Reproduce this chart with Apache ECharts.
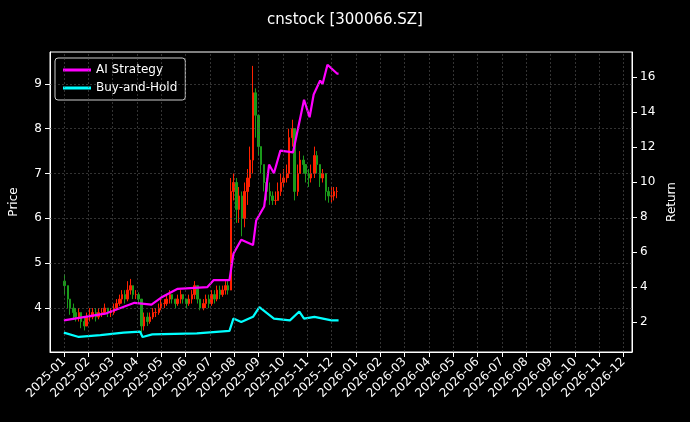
<!DOCTYPE html>
<html>
<head>
<meta charset="utf-8">
<script src="https://cdn.jsdelivr.net/npm/echarts@6/dist/echarts.min.js"></script>
<style>html,body{margin:0;background:#000}#main{width:690px;height:422px}</style>
</head>
<body>
<div id="main"></div>
<script>
// closes, highs, lows: twice a week (Mon/Thu), 2025-01-02 .. 2025-12-08
var closes = [
	4.5,4.2,4.0,3.9,3.8,3.9,3.7,3.6,3.8,
	3.8,3.9,3.8,3.9,3.9,4.0,3.9,3.9,
	4.0,4.1,4.2,4.3,4.2,4.4,4.5,4.3,4.3,
	4.2,3.6,3.8,3.7,3.8,3.9,3.9,4.0,
	4.1,4.1,4.2,4.3,4.2,4.1,4.2,4.3,4.2,
	4.1,4.2,4.3,4.5,4.2,4.0,4.1,4.2,4.1,
	4.3,4.2,4.4,4.3,4.4,4.5,4.4,6.6,6.8,
	6.2,6.5,6.0,6.6,6.9,7.3,8.8,8.3,
	7.6,7.2,6.8,6.6,6.5,6.4,6.4,6.6,6.8,
	6.9,7.0,7.8,8.0,6.6,7.0,7.3,7.2,7.0,
	6.9,7.0,7.4,7.2,6.9,7.0,6.6,6.5,
	6.5,6.6,6.6
];
var highs = [
	4.75,4.5,4.2,4.1,4.0,4.0,3.9,3.8,3.9,
	4.0,4.0,4.0,4.0,4.0,4.1,4.0,4.0,
	4.1,4.2,4.3,4.4,4.4,4.6,4.65,4.5,4.4,
	4.35,4.2,3.9,3.9,3.9,4.0,4.0,4.1,
	4.2,4.2,4.3,4.4,4.3,4.2,4.3,4.4,4.3,
	4.2,4.3,4.4,4.6,4.5,4.2,4.2,4.3,4.3,
	4.4,4.4,4.5,4.5,4.5,4.6,4.6,6.9,7.0,
	6.9,6.7,6.6,6.8,7.1,7.6,9.4,8.9,
	8.3,7.6,7.2,6.9,6.8,6.6,6.6,6.8,7.0,
	7.1,7.2,8.0,8.2,7.9,7.2,7.5,7.4,7.2,
	7.1,7.2,7.6,7.5,7.2,7.1,6.9,6.7,
	6.7,6.7,6.7
];
var lows = [
	4.3,4.0,3.85,3.75,3.7,3.7,3.55,3.5,3.6,
	3.7,3.75,3.7,3.75,3.8,3.85,3.8,3.8,
	3.85,3.95,4.05,4.1,4.1,4.15,4.3,4.2,4.2,
	4.1,3.45,3.5,3.6,3.65,3.75,3.8,3.85,
	3.95,4.0,4.05,4.1,4.1,4.0,4.05,4.1,4.1,
	4.0,4.05,4.1,4.2,4.1,3.95,3.95,4.0,4.0,
	4.05,4.1,4.15,4.2,4.25,4.3,4.3,4.4,6.4,
	5.9,5.9,5.6,5.8,6.3,6.7,7.0,7.8,
	7.4,7.0,6.6,6.4,6.3,6.3,6.3,6.4,6.5,
	6.7,6.8,6.9,7.6,6.4,6.5,7.0,7.0,6.8,
	6.7,6.8,6.9,7.0,6.7,6.8,6.4,6.35,
	6.35,6.4,6.45
];
var aiDates = ['2025-01-01','2025-02-22','2025-03-29','2025-04-19','2025-05-01','2025-05-22','2025-06-28','2025-07-06','2025-07-26','2025-07-31','2025-08-10','2025-08-25','2025-08-29','2025-09-08','2025-09-14','2025-09-20','2025-09-28','2025-10-14','2025-10-28','2025-11-04','2025-11-09','2025-11-17','2025-11-20','2025-11-26','2025-12-08','2025-12-10'];
var aiValues = [2.1,2.5,3.1,3.0,3.4,3.9,4.0,4.4,4.4,5.9,6.7,6.4,7.8,8.6,11.0,10.5,11.8,11.7,14.7,13.7,15.0,15.8,15.6,16.7,16.2,16.2];
var bhDates = ['2025-01-01','2025-01-20','2025-02-15','2025-03-15','2025-04-05','2025-04-08','2025-04-20','2025-06-15','2025-07-26','2025-07-31','2025-08-10','2025-08-25','2025-09-02','2025-09-20','2025-10-10','2025-10-22','2025-10-28','2025-11-10','2025-12-01','2025-12-10'];
var bhValues = [1.4,1.15,1.25,1.4,1.45,1.15,1.3,1.35,1.5,2.2,2.0,2.3,2.85,2.2,2.1,2.6,2.2,2.3,2.1,2.1];
var priceTicks = [4, 5, 6, 7, 8, 9];
var returnTicks = [2, 4, 6, 8, 10, 12, 14, 16];

// date -> months since 2025-01-01 (fractional)
function mIdx(s) {
	var p = s.split('-'), y = +p[0], m = +p[1] - 1, dd = +p[2];
	var dim = new Date(Date.UTC(y, m + 1, 0)).getUTCDate();
	return (y - 2025) * 12 + m + (dd - 1) / dim;
}
var candleDates = [];
var d = new Date(Date.UTC(2025,0,2));
while (candleDates.length < closes.length) {
	var wd = d.getUTCDay();
	if (wd == 1 || wd == 4) candleDates.push(d.toISOString().slice(0,10));
	d = new Date(d.getTime() + 86400000);
}
var candles = [];
for (var i = 0; i < closes.length; i++) {
	var o = i == 0 ? 4.6 : closes[i-1];
	candles.push([mIdx(candleDates[i]), o, closes[i], lows[i], highs[i]]);
}
var monthTicks = [];
for (var m = 0; m < 24; m++) monthTicks.push(m);

// grid lines drawn as markLines on month / price ticks
var gridLines = monthTicks.map(function(v){ return {xAxis: v}; })
	.concat(priceTicks.map(function(v){ return {yAxis: v}; }));

var chart = echarts.init(document.getElementById('main'));
var font = 'DejaVu Sans';
chart.setOption({
	backgroundColor: '#000',
	animation: false,
	textStyle: {fontFamily: font},
	title: {text: 'cnstock [300066.SZ]', left: 'center', top: 8, textStyle: {color: '#fff', fontSize: 15, fontWeight: 'normal', fontFamily: font}},
	legend: {
		left: 55, top: 58, orient: 'vertical', itemGap: 6,
		backgroundColor: '#000', borderColor: '#ccc', borderWidth: 1, borderRadius: 3, padding: [6, 8],
		textStyle: {color: '#fff', fontSize: 12},
		itemWidth: 28, itemHeight: 3,
		data: [{name: 'AI Strategy', icon: 'rect'}, {name: 'Buy-and-Hold', icon: 'rect'}]
	},
	grid: {left: 48, right: 58, top: 52, bottom: 70, show: true, borderColor: '#fff', borderWidth: 1},
	xAxis: {
		type: 'value', min: -0.57, max: 23.35,
		axisLine: {onZero: false, lineStyle: {color: '#fff'}},
		axisTick: {show: true, customValues: monthTicks, lineStyle: {color: '#fff'}},
		axisLabel: {color: '#fff', rotate: 45, fontSize: 12, customValues: monthTicks,
			formatter: function(v){ var y = 2025 + Math.floor(v / 12), mm = v % 12 + 1; return y + '-' + (mm < 10 ? '0' : '') + mm; }},
		splitLine: {show: false}
	},
	yAxis: [
		{type: 'value', min: 3.02, max: 9.71, name: 'Price', nameLocation: 'middle', nameGap: 30,
			nameTextStyle: {color: '#fff', fontSize: 12},
			axisLine: {show: true, onZero: false, lineStyle: {color: '#fff'}},
			axisTick: {show: true, customValues: priceTicks},
			axisLabel: {color: '#fff', fontSize: 12, customValues: priceTicks},
			splitLine: {show: false}},
		{type: 'value', min: 0.29, max: 17.43, name: 'Return', nameLocation: 'middle', nameGap: 34,
			nameTextStyle: {color: '#fff', fontSize: 12},
			axisLine: {show: true, onZero: false, lineStyle: {color: '#fff'}},
			axisTick: {show: true, customValues: returnTicks},
			axisLabel: {color: '#fff', fontSize: 12, customValues: returnTicks},
			splitLine: {show: false}}
	],
	series: [
		{type: 'line', data: [], silent: true,
			markLine: {silent: true, symbol: 'none', label: {show: false},
				lineStyle: {color: '#555', type: [2, 2], width: 0.6}, data: gridLines}},
		{type: 'candlestick', name: 'Price', data: candles, barMaxWidth: 2,
			itemStyle: {color: '#ff2000', color0: '#1a9a1a', borderColor: '#ff2000', borderColor0: '#1a9a1a'}},
		{type: 'line', name: 'AI Strategy', yAxisIndex: 1, showSymbol: false, color: '#ff00ff', lineStyle: {width: 2.2},
			data: aiDates.map(function(t, i){ return [mIdx(t), aiValues[i]]; })},
		{type: 'line', name: 'Buy-and-Hold', yAxisIndex: 1, showSymbol: false, color: '#00ffff', lineStyle: {width: 2.2},
			data: bhDates.map(function(t, i){ return [mIdx(t), bhValues[i]]; })}
	]
});
</script>
</body>
</html>
